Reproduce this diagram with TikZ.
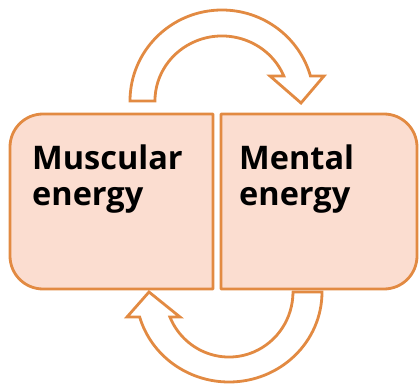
\documentclass[tikz,border=0pt]{standalone}
\usepackage{fontspec}
\setmainfont{Open Sans}
\definecolor{orangeline}{RGB}{226,138,66}
\definecolor{peach}{RGB}{251,221,208}
\begin{document}
\begin{tikzpicture}[x=1pt,y=-1pt,
  boxst/.style={draw=orangeline,fill=peach,line width=2.8pt,line join=round},
  arrowst/.style={draw=orangeline,fill=white,line width=2.8pt,line join=miter},
  label/.style={anchor=base west,inner sep=0pt,align=left,text=black,
    font=\fontsize{32.5}{36}\selectfont\bfseries}]
\useasboundingbox (0,0) rectangle (420,387);
% boxes
\path[boxst] (213,114) -- (43,114) arc[start angle=270,end angle=180,radius=33]
  -- (10,256) arc[start angle=180,end angle=90,radius=33] -- (213,289) -- cycle;
\path[boxst] (221,114) -- (384,114) arc[start angle=270,end angle=360,radius=33]
  -- (417,256) arc[start angle=0,end angle=90,radius=33] -- (221,289) -- cycle;
% top curved arrow
\path[arrowst] (130,101) arc[start angle=180,end angle=344.05,x radius=92,y radius=91]
  -- (324,76) -- (301,103) -- (270,76) -- (283.8,76)
  arc[start angle=337.4,end angle=180,x radius=67,y radius=65] -- cycle;
% bottom curved arrow
\path[arrowst] (293,292) -- (322,292)
  arc[start angle=0,end angle=163.9,x radius=93,y radius=90]
  -- (127,317) -- (149,292) -- (180,317) -- (169.9,317)
  arc[start angle=157.4,end angle=0,x radius=64,y radius=65] -- cycle;
% labels
\node[label] (muscular) at (32,206) {Muscular\\energy};
\node[label] (mental) at (239,206) {Mental\\energy};
\end{tikzpicture}
\end{document}
